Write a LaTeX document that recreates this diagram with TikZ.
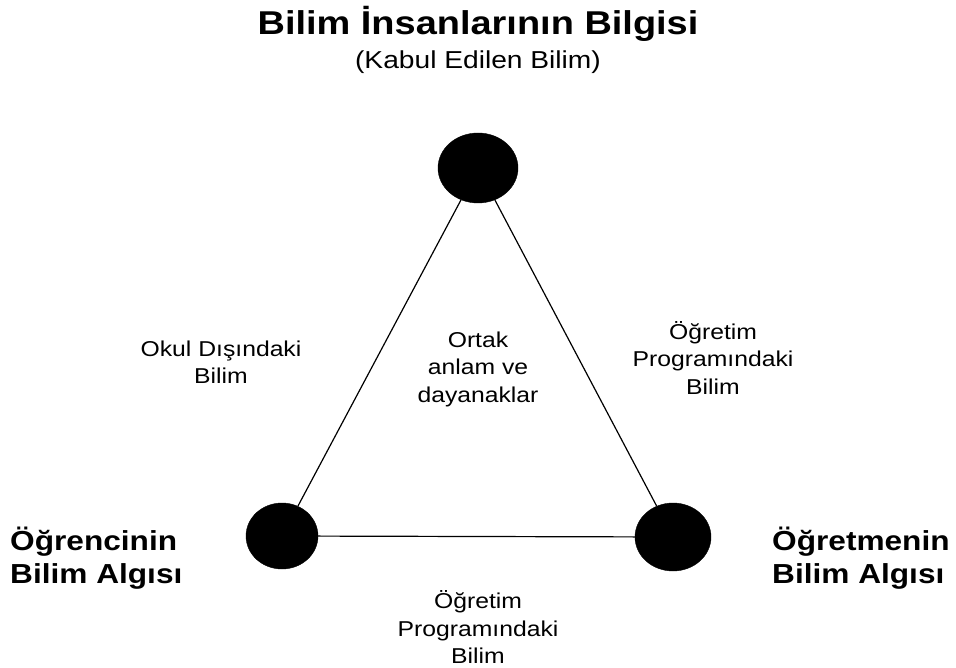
\documentclass[tikz,border=0pt]{standalone}
\usepackage{fontspec}
\setmainfont[FakeStretch=1.15]{Liberation Sans}
\usetikzlibrary{shapes.geometric,positioning}

\begin{document}
\begin{tikzpicture}[x=1pt,y=-1pt]
\tikzstyle{every node}+=[inner sep=0pt]
\tikzstyle{dot}=[ellipse,fill=black,draw=black]
\tikzstyle{big}=[font=\fontsize{27.5}{33}\selectfont\bfseries,align=left]
\tikzstyle{small}=[font=\fontsize{21.5}{27.5}\selectfont,align=center]
\useasboundingbox (0,0) rectangle (956,668);
% corners of the triangle
\node [dot,minimum width=80pt,minimum height=70pt] (top) at (478,168) {};
\node [dot,minimum width=72pt,minimum height=66pt] (left) at (282,536) {};
\node [dot,minimum width=76pt,minimum height=68pt] (right) at (673,537) {};
\draw [black,line width=1.2pt] (top) -- (left);
\draw [black,line width=1.2pt] (top) -- (right);
\draw [black,line width=1.2pt] (left) -- (right);
% titles
\node [anchor=base,font=\fontsize{33}{38}\selectfont\bfseries] (title) at (478,35) {Bilim İnsanlarının Bilgisi};
\node [anchor=base,font=\fontsize{24.5}{28}\selectfont] (subtitle) at (478,69) {(Kabul Edilen Bilim)};
\node [big,anchor=west] (student) at (10,558) {Öğrencinin\\Bilim Algısı};
\node [big,anchor=west] (teacher) at (772,558) {Öğretmenin\\Bilim Algısı};
% edge labels
\node [small] (outside) at (221,362) {Okul Dışındaki\\Bilim};
\node [small] (common) at (478,369) {Ortak\\anlam ve\\dayanaklar};
\node [small] (programright) at (713,358) {Öğretim\\Programındaki\\Bilim};
\node [small] (programbottom) at (478,627) {Öğretim\\Programındaki\\Bilim};
\end{tikzpicture}
\end{document}
